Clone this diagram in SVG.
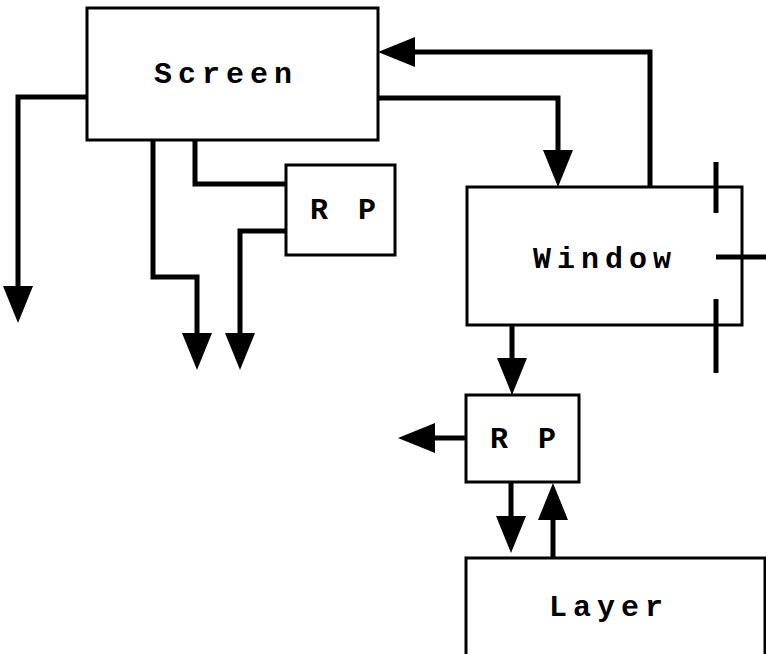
<svg xmlns="http://www.w3.org/2000/svg" width="766" height="654" viewBox="0 0 766 654">
  <style>
    .box { fill: #fff; stroke: #000; stroke-width: 3; }
    .lbl { font-family: "Liberation Mono", "Courier New", monospace; font-weight: bold; font-size: 30px; letter-spacing: 6px; text-anchor: middle; fill: #000; }
    .conn { fill: none; stroke: #000; stroke-width: 5; stroke-linejoin: miter; stroke-linecap: butt; }
  </style>
  <defs>
    <marker id="ah" markerUnits="userSpaceOnUse" markerWidth="40" markerHeight="32" viewBox="0 -16 40 32" refX="0" refY="0" orient="auto" overflow="visible">
      <path d="M0,-15 L37,0 L0,15 Z" fill="#000"/>
    </marker>
  </defs>
  <rect width="766" height="654" fill="#fff"/>

  <g id="connectors">
    <path class="conn" d="M87,97 H18 V286" marker-end="url(#ah)"/>
    <path class="conn" d="M153,140 V277 H197 V333" marker-end="url(#ah)"/>
    <path class="conn" d="M195,140 V184 H286"/>
    <path class="conn" d="M286,231 H240 V333" marker-end="url(#ah)"/>
    <path class="conn" d="M650,187 V52 H415" marker-end="url(#ah)"/>
    <path class="conn" d="M378,98 H558 V150" marker-end="url(#ah)"/>
    <path class="conn" d="M512,325 V358" marker-end="url(#ah)"/>
    <path class="conn" d="M466,438 H435" marker-end="url(#ah)"/>
    <path class="conn" d="M511,482 V516" marker-end="url(#ah)"/>
    <path class="conn" d="M553,558 V520" marker-end="url(#ah)"/>
  </g>

  <g id="screen">
    <rect class="box" x="87" y="8" width="291" height="132"/>
    <text class="lbl" x="226" y="83">Screen</text>
  </g>
  <g id="rp1">
    <rect class="box" x="286" y="165" width="109" height="90"/>
    <text class="lbl" x="346" y="219">R P</text>
  </g>
  <g id="window">
    <rect class="box" x="467" y="187" width="275" height="138"/>
    <text class="lbl" x="605" y="268">Window</text>
    <path class="conn" d="M716,162 V213 M716,299 V373 M716,257 H766"/>
  </g>
  <g id="rp2">
    <rect class="box" x="466" y="395" width="113" height="87"/>
    <text class="lbl" x="526" y="448">R P</text>
  </g>
  <g id="layer">
    <rect class="box" x="466" y="558" width="299" height="110"/>
    <text class="lbl" x="609" y="616">Layer</text>
  </g>
</svg>
